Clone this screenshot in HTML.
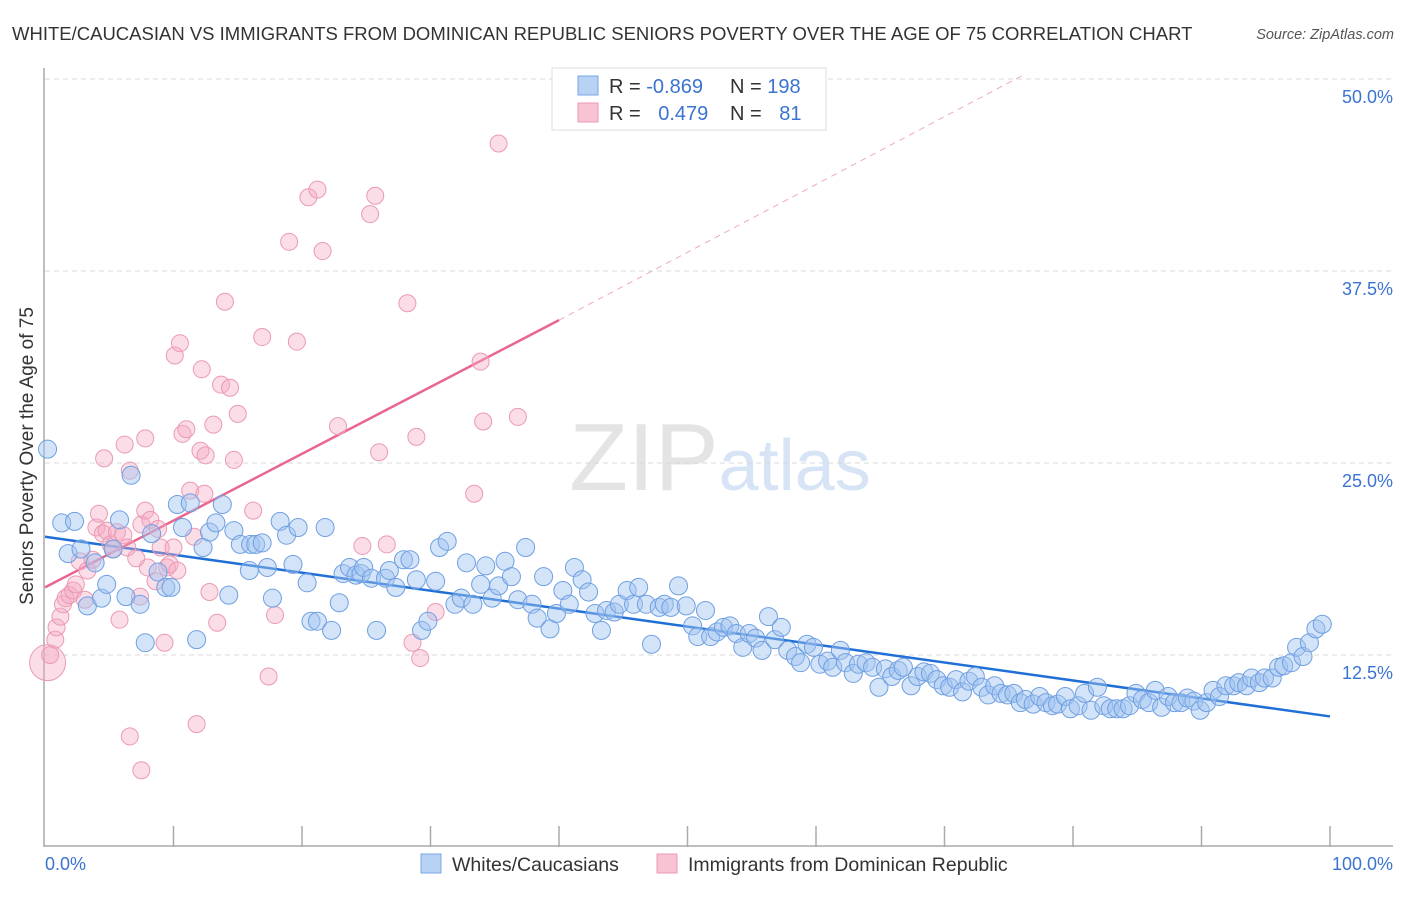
<!DOCTYPE html>
<html><head><meta charset="utf-8">
<style>
body{margin:0;background:#fff;font-family:"Liberation Sans",sans-serif;}
svg text{font-family:"Liberation Sans",sans-serif;}
</style></head>
<body>
<svg id="chart" width="1406" height="892" xmlns="http://www.w3.org/2000/svg">
<text x="12" y="40" font-size="18.5" fill="#333">WHITE/CAUCASIAN VS IMMIGRANTS FROM DOMINICAN REPUBLIC SENIORS POVERTY OVER THE AGE OF 75 CORRELATION CHART</text>
<text x="1394" y="39" font-size="14.5" fill="#555" text-anchor="end" font-style="italic">Source: ZipAtlas.com</text>
<text x="720" y="490" font-size="96" fill="#e4e4e4" text-anchor="middle" font-family="Liberation Serif,serif">ZIP<tspan fill="#d6e4f5" font-family="Liberation Sans,sans-serif" font-size="72">atlas</tspan></text>
<g id="grid"></g>
<g id="axes"></g>
<g id="trend"></g>
<g id="points"></g>
<text transform="translate(33,456) rotate(-90)" font-size="19" fill="#333" text-anchor="middle">Seniors Poverty Over the Age of 75</text>
<g>
<rect x="552" y="68" width="274" height="62" fill="#fff" stroke="#ddd"/>
<rect x="578" y="76" width="20" height="19" fill="#b8d2f4" stroke="#7aa6e6"/>
<text x="609" y="93" font-size="20" fill="#333">R = <tspan fill="#3b73d1">-0.869</tspan></text>
<text x="730" y="93" font-size="20" fill="#333">N = <tspan fill="#3b73d1">198</tspan></text>
<rect x="578" y="103" width="20" height="19" fill="#f8c4d4" stroke="#eb9ab3"/>
<text x="609" y="120" font-size="20" fill="#333">R = <tspan fill="#3b73d1" dx="12">0.479</tspan></text>
<text x="730" y="120" font-size="20" fill="#333">N = <tspan fill="#3b73d1" dx="12">81</tspan></text>
</g>
<g>
<rect x="421" y="854" width="20" height="19" fill="#b8d2f4" stroke="#7aa6e6"/>
<text x="452" y="871" font-size="19.5" fill="#333">Whites/Caucasians</text>
<rect x="657" y="854" width="20" height="19" fill="#f8c4d4" stroke="#eb9ab3"/>
<text x="688" y="871" font-size="19.5" fill="#333">Immigrants from Dominican Republic</text>
</g>
</svg>
<script>
const yTicks=[12.5,25,37.5,50];
const yTickLabels=["12.5%","25.0%","37.5%","50.0%"];
const xTicks=[10,20,30,40,50,60,70,80,90,100];
const blueX=[0.2,1.3,2.3,1.8,2.8,3.9,3.3,4.4,4.8,5.3,5.8,6.3,7.4,7.8,6.7,8.3,8.8,9.4,9.8,10.3,10.7,11.3,11.8,12.3,12.8,13.3,13.8,14.3,14.7,15.2,16.0,16.4,16.9,15.9,17.3,17.7,18.3,18.8,19.3,19.7,20.4,20.7,21.2,21.8,22.3,22.9,23.2,23.7,24.2,24.6,24.8,25.4,25.8,26.5,26.8,27.3,27.9,28.4,28.9,29.3,29.8,30.4,30.7,31.3,31.9,32.4,32.8,33.3,33.9,34.3,34.8,35.3,35.8,36.3,36.8,37.4,37.9,38.3,38.8,39.3,39.8,40.3,40.8,41.2,41.8,42.3,42.8,43.3,43.7,44.3,44.7,45.3,45.8,46.2,46.8,47.2,47.8,48.2,48.7,49.3,49.9,50.4,50.8,51.4,51.8,52.3,52.8,53.3,53.8,54.3,54.8,55.3,55.8,56.3,56.8,57.3,57.8,58.4,58.8,59.3,59.8,60.3,60.9,61.3,61.9,62.3,62.9,63.3,63.9,64.4,64.9,65.4,65.9,66.4,66.8,67.4,67.9,68.4,68.9,69.4,69.9,70.4,70.9,71.4,71.9,72.4,72.9,73.4,73.9,74.4,74.9,75.4,75.9,76.3,76.9,77.4,77.9,78.4,78.8,79.4,79.8,80.4,80.9,81.4,81.9,82.4,82.9,83.4,83.9,84.4,84.9,85.4,85.9,86.4,86.9,87.4,87.9,88.4,88.9,89.4,89.9,90.4,90.9,91.4,91.9,92.5,92.9,93.5,93.9,94.5,94.9,95.5,96.0,96.4,97.0,97.4,97.9,98.4,98.9,99.4];
const blueY=[25.9,21.1,21.2,19.1,19.4,18.5,15.7,16.2,17.1,19.4,21.3,16.3,15.8,13.3,24.2,20.4,17.9,16.9,16.9,22.3,20.8,22.4,13.5,19.5,20.5,21.1,22.3,16.4,20.6,19.7,19.7,19.7,19.8,18.0,18.2,16.2,21.2,20.3,18.4,20.8,17.2,14.7,14.7,20.8,14.1,15.9,17.8,18.2,17.7,17.8,18.2,17.5,14.1,17.5,18.0,16.9,18.7,18.7,17.4,14.1,14.7,17.3,19.5,19.9,15.8,16.2,18.5,15.8,17.1,18.3,16.2,17.0,18.6,17.6,16.1,19.5,15.8,14.9,17.6,14.2,15.2,16.7,15.8,18.2,17.4,16.6,15.2,14.1,15.4,15.3,15.8,16.7,15.8,16.9,15.8,13.2,15.6,15.8,15.6,17.0,15.7,14.4,13.7,15.4,13.7,14.0,14.3,14.4,13.9,13.0,13.9,13.6,12.8,15.0,13.5,14.3,12.8,12.4,12.0,13.2,13.0,11.9,12.1,11.7,12.8,12.0,11.3,11.9,12.0,11.7,10.4,11.6,11.1,11.5,11.7,10.5,11.1,11.4,11.3,10.9,10.5,10.4,10.9,10.1,10.8,11.1,10.4,9.9,10.5,10.0,9.9,10.0,9.4,9.6,9.3,9.8,9.4,9.2,9.3,9.8,9.0,9.2,10.0,8.9,10.4,9.2,9.0,9.0,9.0,9.2,10.0,9.6,9.4,10.2,9.1,9.8,9.4,9.4,9.7,9.5,8.9,9.4,10.2,9.8,10.5,10.5,10.7,10.5,11.0,10.7,11.0,11.0,11.7,11.8,12.0,13.0,12.4,13.3,14.2,14.5];
const pinkX=[0.2,0.4,0.8,0.9,1.2,1.4,1.6,1.9,2.2,2.4,2.7,3.1,3.3,3.7,4.0,4.2,4.5,4.8,5.1,5.3,5.6,5.8,6.1,6.4,6.6,7.1,7.4,7.5,7.8,8.0,8.2,8.6,8.8,9.0,9.3,9.5,9.7,10.0,10.3,10.7,11.0,11.3,11.6,11.8,12.1,12.4,12.5,12.8,13.1,13.4,13.7,14.0,14.4,14.7,15.0,4.6,6.2,7.8,10.1,10.5,12.2,16.2,16.9,17.4,17.9,19.0,19.6,20.5,21.2,21.6,22.8,24.7,25.3,25.7,26.0,26.6,28.2,28.6,28.9,29.2,30.4,33.4,33.9,34.1,35.3,36.8,6.6,7.5];
const pinkY=[12.0,12.5,13.5,14.3,15.0,15.8,16.2,16.4,16.7,17.1,18.6,16.1,18.0,18.7,20.8,21.7,20.4,20.6,19.7,19.4,20.5,14.8,20.3,19.5,24.5,18.8,16.3,21.0,21.9,18.2,21.3,17.3,20.7,19.5,13.3,18.2,18.4,19.5,18.0,26.9,27.2,23.2,20.2,8.0,25.8,23.0,25.5,16.6,27.5,14.6,30.1,35.5,29.9,25.2,28.2,25.3,26.2,26.6,32.0,32.8,31.1,21.9,33.2,11.1,15.1,39.4,32.9,42.3,42.8,38.8,27.4,19.6,41.2,42.4,25.7,19.7,35.4,13.3,26.7,12.3,15.3,23.0,31.6,27.7,45.8,28.0,7.2,5.0];
const blueTrend=[[0,20.2],[100,8.5]];
const pinkTrend=[[0,16.9],[40,34.3]];
const pinkTrendExt=[[40,34.3],[76,50.2]];

const NS="http://www.w3.org/2000/svg";
const X0=45,X1=1330,Y0=847,PXY=15.36;
const sx=v=>X0+(X1-X0)*v/100;
const sy=v=>Y0-v*PXY;
function mk(tag,attrs,parent){const e=document.createElementNS(NS,tag);for(const k in attrs)e.setAttribute(k,attrs[k]);parent.appendChild(e);return e;}
const grid=document.getElementById('grid'),axes=document.getElementById('axes'),trend=document.getElementById('trend'),pts=document.getElementById('points');
yTicks.forEach((t,i)=>{
  const l=mk('line',{x1:X0,x2:1393,y1:sy(t),y2:sy(t),stroke:'#d8d8d8','stroke-dasharray':'5,4'},grid);
  
  
  const tx=mk('text',{x:1393,y:sy(t)+24,'font-size':18,fill:'#3b73d1','text-anchor':'end'},grid);
  tx.textContent=yTickLabels[i];
  
  
});
let a=mk('line',{x1:X0-1,x2:X0-1,y1:68,y2:Y0,stroke:'#aaa','stroke-width':1.5},axes);


a=mk('line',{x1:X0-1,x2:1393,y1:Y0-1,y2:Y0-1,stroke:'#aaa','stroke-width':1.5},axes);


xTicks.forEach(t=>{
  const l=mk('line',{x1:sx(t),x2:sx(t),y1:826,y2:Y0,stroke:'#aaa','stroke-width':1.5},axes);
  
  
});
let t0=mk('text',{x:45,y:870,'font-size':18,fill:'#3b73d1'},axes);t0.textContent='0.0%';


let t1=mk('text',{x:1393,y:870,'font-size':18,fill:'#3b73d1','text-anchor':'end'},axes);t1.textContent='100.0%';



pinkX.forEach((x,i)=>{
  const c=mk('circle',{cx:sx(x),cy:sy(pinkY[i]),r:i===0?18:8.5,fill:'rgba(244,170,195,0.4)',stroke:'#eb9ab3','stroke-width':1},pts);
  
  
});
blueX.forEach((x,i)=>{
  const c=mk('circle',{cx:sx(x),cy:sy(blueY[i]),r:9,fill:'rgba(160,196,240,0.45)',stroke:'#6f9fe2','stroke-width':1},pts);
  
  
});
let tl=mk('line',{x1:sx(blueTrend[0][0]),y1:sy(blueTrend[0][1]),x2:sx(blueTrend[1][0]),y2:sy(blueTrend[1][1]),stroke:'#1f6fd6','stroke-width':2.5},trend);


tl=mk('line',{x1:sx(pinkTrend[0][0]),y1:sy(pinkTrend[0][1]),x2:sx(pinkTrend[1][0]),y2:sy(pinkTrend[1][1]),stroke:'#e8668f','stroke-width':2.5},trend);


tl=mk('line',{x1:sx(pinkTrendExt[0][0]),y1:sy(pinkTrendExt[0][1]),x2:sx(pinkTrendExt[1][0]),y2:sy(pinkTrendExt[1][1]),stroke:'#eeaabd','stroke-width':1,'stroke-dasharray':'6,5'},trend);


</script>
</body></html>
